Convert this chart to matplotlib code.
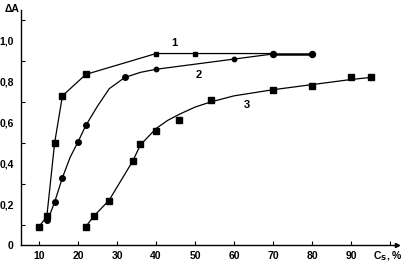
import matplotlib.pyplot as plt
from matplotlib.ticker import FixedLocator

# curve 1: squares, straight segments
x1 = [10, 12, 14, 16, 22, 40, 50, 70, 80]
y1 = [0.09, 0.14, 0.50, 0.73, 0.835, 0.937, 0.937, 0.937, 0.937]

# curve 2: round markers, smooth line
x2 = [12, 14, 16, 20, 22, 32, 40, 60, 70]
y2 = [0.12, 0.21, 0.33, 0.505, 0.585, 0.82, 0.86, 0.91, 0.935]
x2_line = [12, 13, 14, 15, 16, 18, 20, 22, 25, 28, 32, 36, 40, 50, 60, 70]
y2_line = [0.12, 0.16, 0.21, 0.27, 0.33, 0.43, 0.505, 0.585, 0.68, 0.765, 0.82, 0.845, 0.86, 0.885, 0.91, 0.935]

# curve 3: squares, smooth line
x3 = [22, 24, 28, 34, 36, 40, 46, 54, 70, 80, 90, 95]
y3 = [0.09, 0.14, 0.215, 0.41, 0.495, 0.56, 0.61, 0.71, 0.76, 0.78, 0.82, 0.82]
x3_line = [22, 24, 28, 31, 34, 36, 38, 40, 43, 46, 50, 54, 60, 70, 80, 90, 95]
y3_line = [0.09, 0.14, 0.22, 0.315, 0.41, 0.49, 0.53, 0.57, 0.61, 0.64, 0.675, 0.70, 0.73, 0.76, 0.785, 0.81, 0.82]

xticks = [10, 20, 30, 40, 50, 60, 70, 80, 90]
yticks = [0, 0.2, 0.4, 0.6, 0.8, 1.0]
ytick_labels = ['0', '0,2', '0,4', '0,6', '0,8', '1,0']

plt.rcParams['font.family'] = ['Liberation Sans', 'DejaVu Sans']
plt.rcParams['font.weight'] = 'bold'

fig = plt.figure(figsize=(4.06, 2.64), dpi=100)
ax = fig.add_axes([0.051, 0.072, 0.927, 0.89])
ax.set_xlim(5.3, 101.8)
ax.set_ylim(0.0, 1.15)

ax.plot(x1[:-1], y1[:-1], color='black', lw=0.9)
ax.plot(x1[-2:], y1[-2:], color='black', lw=1.8)
ax.plot(x1[:5], y1[:5], 's', color='black', ms=4.5)
ax.plot(x1[5:7], y1[5:7], 's', color='black', ms=3.3)
ax.plot(x1[7:], y1[7:], 'o', color='black', ms=4.3)

ax.plot(x2_line, y2_line, color='black', lw=0.9)
ax.plot(x2[:6], y2[:6], 'o', color='black', ms=4)
ax.plot(x2[6:8], y2[6:8], 'o', color='black', ms=3.2)

ax.plot(x3_line, y3_line, color='black', lw=0.9)
ax.plot(x3, y3, 's', color='black', ms=4.5)

ax.text(44.7, 0.99, '1', fontsize=8, ha='center', va='center')
ax.text(50.9, 0.834, '2', fontsize=8, ha='center', va='center')
ax.text(63.3, 0.684, '3', fontsize=8, ha='center', va='center')

for s in ['top', 'right']:
    ax.spines[s].set_visible(False)
for s in ['left', 'bottom']:
    ax.spines[s].set_linewidth(1.0)

ax.set_xticks(xticks + [100])
ax.set_xticklabels([str(t) for t in xticks] + [''], fontsize=7.5, fontweight='bold')
ax.tick_params(axis='x', direction='in', length=3, width=0.8, pad=4)

ax.set_yticks(yticks)
ax.set_yticklabels(ytick_labels, fontsize=7.5, fontweight='bold')
ax.yaxis.set_minor_locator(FixedLocator([0.1, 0.3, 0.5, 0.7, 0.9, 1.1]))
ax.tick_params(axis='y', which='major', length=0, pad=5)
ax.tick_params(axis='y', which='minor', direction='in', length=3, width=0.8)

ax.plot(1, 0, '>', color='black', ms=3, transform=ax.transAxes, clip_on=False)

fig.text(0.012, 0.965, 'ΔA', fontsize=7.5, fontweight='bold', ha='left', va='center')
fig.text(0.918, 0.03, r'C$_\mathbf{S}$, %', fontsize=7.5, fontweight='bold', ha='left', va='center')

fig.savefig('out.png', dpi=100)
